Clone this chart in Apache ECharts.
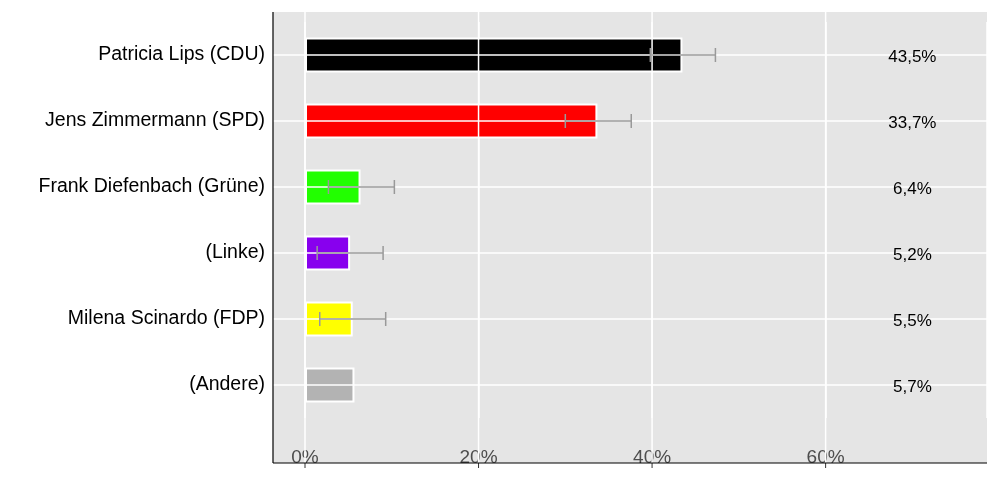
<!DOCTYPE html>
<html><head><meta charset="utf-8">
<script src="https://cdn.jsdelivr.net/npm/echarts@6/dist/echarts.min.js"></script>
<style>html,body{margin:0;background:#fff}#c{width:1000px;height:500px}</style>
</head><body><div id="c"></div>
<script>
var names = ['Patricia Lips (CDU)', 'Jens Zimmermann (SPD)', 'Frank Diefenbach (Grüne)', '(Linke)', 'Milena Scinardo (FDP)', '(Andere)'];
var values = [43.5, 33.7, 6.4, 5.2, 5.5, 5.7];
var errLow = [39.8, 30.0, 2.7, 1.4, 1.7, null];
var errHigh = [47.3, 37.6, 10.3, 9.0, 9.3, null];
var colors = ['#000000', '#ff0000', '#22ff00', '#8800ee', '#ffff00', '#b3b3b3'];
var tickValues = [0, 20, 40, 60];
var labelPos = 70;

var chart = echarts.init(document.getElementById('c'));
chart.setOption({
  animation: false,
  graphic: [
    { type: 'rect', z: -10, shape: { x: 273, y: 12, width: 714, height: 451 }, style: { fill: '#e5e5e5' } },
    { type: 'line', z: 10, shape: { x1: 273, y1: 12, x2: 273, y2: 463 }, style: { stroke: '#000', lineWidth: 1.2 } },
    { type: 'line', z: 10, shape: { x1: 273, y1: 463, x2: 987, y2: 463 }, style: { stroke: '#000', lineWidth: 1.2 } }
  ],
  grid: { left: 305, right: 13, top: 22, bottom: 82 },
  xAxis: {
    type: 'value', min: 0, max: 78.6, interval: 20,
    axisLine: { show: false },
    axisTick: { show: false },
    axisLabel: { color: '#4d4d4d', fontSize: 19, fontFamily: 'Liberation Sans', margin: 30, formatter: function (v) { return v % 20 === 0 ? v + '%' : ''; }, showMaxLabel: false },
    splitLine: { lineStyle: { color: '#fff', width: 1.5 } }
  },
  yAxis: {
    type: 'category', data: names, inverse: true, offset: 32,
    axisLine: { show: false },
    axisTick: { show: false },
    axisLabel: { color: '#000', fontSize: 19.5, fontFamily: 'Liberation Sans', margin: 8 },
    splitLine: { show: false }
  },
  series: [{
    type: 'bar', barWidth: 35,
    data: values.map(function (v, i) { return { value: v, itemStyle: { color: colors[i], borderColor: '#fff', borderWidth: 2 } }; }),
    z: 3
  }, {
    type: 'custom', z: 5, clip: false,
    data: names.map(function (n, i) { return [i]; }),
    renderItem: function (params, api) {
      var i = api.value(0);
      var yc = api.coord([0, i])[1];
      var kids = [];
      kids.push({ type: 'line', shape: { x1: 273, y1: yc, x2: 987, y2: yc }, style: { stroke: '#fff', lineWidth: 1.5 }, z2: -10 });
      if (i === 0) {
        tickValues.forEach(function (t) {
          var tx0 = api.coord([t, 0])[0];
          kids.push({ type: 'line', shape: { x1: tx0, y1: 12, x2: tx0, y2: 463 }, style: { stroke: '#fff', lineWidth: 1.5 }, z2: -10 });
          kids.push({ type: 'line', shape: { x1: tx0, y1: 463, x2: tx0, y2: 468 }, style: { stroke: '#333', lineWidth: 1 } });
        });
      }
      var lo = errLow[i], hi = errHigh[i];
      if (lo != null) {
        var x1 = api.coord([lo, i])[0], x2 = api.coord([hi, i])[0];
        var st = { stroke: '#999', lineWidth: 1.5 };
        kids.push({ type: 'line', shape: { x1: x1, y1: yc, x2: x2, y2: yc }, style: st });
        kids.push({ type: 'line', shape: { x1: x1, y1: yc - 7, x2: x1, y2: yc + 7 }, style: st });
        kids.push({ type: 'line', shape: { x1: x2, y1: yc - 7, x2: x2, y2: yc + 7 }, style: st });
      }
      var tx = api.coord([labelPos, i])[0];
      kids.push({ type: 'text', style: { x: tx, y: yc + 2, text: values[i].toFixed(1).replace('.', ',') + '%', fill: '#000', font: '17px Liberation Sans', align: 'center', verticalAlign: 'middle' } });
      return { type: 'group', children: kids };
    }
  }]
});
</script></body></html>
